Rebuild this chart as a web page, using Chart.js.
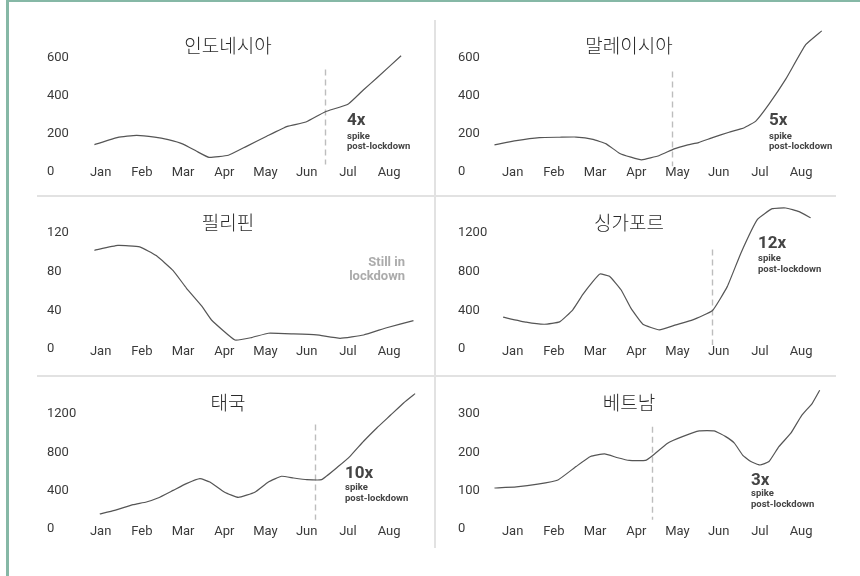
<!DOCTYPE html>
<html><head><meta charset="utf-8">
<script src="https://cdn.jsdelivr.net/npm/chart.js@4"></script>
<style>
html,body{margin:0;padding:0;background:#fff;}
#stage{position:relative;width:860px;height:576px;overflow:hidden;font-family:Roboto,sans-serif;}
.bl{position:absolute;left:6px;top:0;width:3px;height:576px;background:#86b8a6;}
.bt{position:absolute;left:6px;top:0;width:854px;height:2px;background:#86b8a6;}
.vd{position:absolute;left:434px;top:20px;width:2px;height:528px;background:#e2e2e2;}
.hd{position:absolute;left:37px;width:799px;height:2px;background:#e2e2e2;}
canvas{position:absolute;}
.title{position:absolute;width:300px;text-align:center;font-family:"Noto Sans CJK KR",sans-serif;font-weight:300;font-size:19px;line-height:20px;color:#2a2a2a;}
.ann{position:absolute;font-family:Roboto,sans-serif;font-weight:700;color:#444;white-space:nowrap;}
.big{font-size:17px;line-height:18px;}
.small{font-size:9.5px;line-height:10px;}
.gray{color:#ababab;font-size:13px;line-height:14px;text-align:right;}
</style></head>
<body><div id="stage">
<div class="bl"></div><div class="bt"></div>
<div class="vd"></div>
<div class="hd" style="top:195px"></div>
<div class="hd" style="top:375px"></div>
</div>
<script>
const months = ['Jan','Feb','Mar','Apr','May','Jun','Jul','Aug'];
const titles = ['인도네시아','말레이시아','필리핀','싱가포르','태국','베트남'];

const idnX = [-0.15,0.42,0.87,1.31,1.64,2.0,2.33,2.63,3.10,3.54,4.03,4.53,4.98,5.44,6.01,6.38,6.70,7.29];
const idnY = [144,182,193,184,170,147,109,77,88,135,188,240,263,316,358,433,495,612];
const mysX = [-0.44,0.09,0.65,1.14,1.54,1.95,2.27,2.59,2.87,3.13,3.56,3.92,4.25,4.51,4.85,5.25,5.62,5.90,6.22,6.63,7.11,7.50];
const mysY = [143,165,181,183,184,172,148,99,78,64,87,122,143,155,181,209,233,268,357,490,670,743];
const phlX = [-0.15,0.42,0.95,1.35,1.76,2.08,2.45,2.69,3.26,3.66,4.07,4.68,5.24,5.81,6.38,6.94,7.59];
const phlY = [102,107,105.5,96.5,81,63,44.6,30,9.3,11.8,16.3,15.6,14.5,11,14.5,22,29.4];
const sgpX = [-0.23,0.33,0.77,1.14,1.46,1.70,1.95,2.12,2.35,2.63,2.87,3.16,3.56,3.96,4.37,4.85,5.21,5.54,5.94,6.30,6.63,6.95,7.23];
const sgpY = [329,277,256,280,405,561,699,775,751,612,422,256,197,249,301,398,647,993,1339,1450,1457,1419,1356];
const thaX = [-0.02,0.34,0.79,1.11,1.39,1.76,2.08,2.41,2.65,3.01,3.34,3.74,4.07,4.39,4.68,5.0,5.36,5.77,6.05,6.38,6.70,7.03,7.35,7.63];
const thaY = [157,195,254,282,323,403,473,525,490,383,330,383,490,550,532,515,515,654,758,915,1054,1186,1315,1412];
const vnmX = [-0.44,0.09,0.61,1.10,1.54,1.89,2.23,2.55,2.83,3.22,3.40,3.76,4.12,4.53,4.89,5.17,5.38,5.58,5.78,6.0,6.22,6.46,6.75,7.01,7.27,7.45];
const vnmY = [107,110,117,128,163,189,196,186,179,179,192,224,241,256,256,241,224,193,176,167,176,215,250,296,328,362];

const idnTicks = [0,200,400,600];
const mysTicks = [0,200,400,600];
const phlTicks = [0,40,80,120];
const sgpTicks = [0,400,800,1200];
const thaTicks = [0,400,800,1200];
const vnmTicks = [0,100,200,300];

const yMaxes = [800,800,155,1550,1575,394];
const lockdownX = [5.44,3.86,null,4.83,5.19,3.38];
const lockdownFrom = [40,30,null,42,97,24];
const lockdownTo = [540,529,null,1028,1089,267];
const spikeLabels = ['4x','5x',null,'12x','10x','3x'];

const xsAll = [idnX,mysX,phlX,sgpX,thaX,vnmX];
const ysAll = [idnY,mysY,phlY,sgpY,thaY,vnmY];
const ticksAll = [idnTicks,mysTicks,phlTicks,sgpTicks,thaTicks,vnmTicks];

// layout (positions only)
const cols = [{left:47,yw:33,w:371,tx:228},{left:458,yw:34,w:372,tx:629}];
const rows = [{top:20,zero:172,ty:45,xpad:0},{top:199,zero:349,ty:222,xpad:2},{top:378,zero:529,ty:402,xpad:2}];
const annPos = [{x:347,y:[119,136,146]},{x:769,y:[119,136,146]},null,{x:758,y:[242,258,269]},{x:345,y:[472,487,498]},{x:751,y:[479,493,504]}];

const stage = document.getElementById('stage');
const dashPlugin = {
  id:'lockdown',
  beforeDatasetsDraw(chart, args, opts){
    if (opts.x == null) return;
    const {ctx, scales:{x,y}} = chart;
    const px = Math.round(x.getPixelForValue(opts.x)) + 0.5;
    ctx.save();
    ctx.strokeStyle = '#bdbdbd'; ctx.lineWidth = 1.4; ctx.setLineDash([6,4]);
    ctx.beginPath();
    ctx.moveTo(px, y.getPixelForValue(opts.to));
    ctx.lineTo(px, y.getPixelForValue(opts.from));
    ctx.stroke(); ctx.restore();
  }
};

const PADT = 8, LIFT = 7, XH = 22;
for (let i = 0; i < 6; i++) {
  const c = cols[i % 2], r = rows[Math.floor(i / 2)];
  const cv = document.createElement('canvas');
  const bottom = r.zero - LIFT;
  const h = PADT + (bottom - r.top) + XH;
  cv.width = c.w; cv.height = h;
  cv.style.left = c.left + 'px'; cv.style.top = (r.top - PADT) + 'px';
  cv.style.width = c.w + 'px'; cv.style.height = h + 'px';
  stage.appendChild(cv);

  const t = document.createElement('div');
  t.className = 'title'; t.textContent = titles[i];
  t.style.left = (c.tx - 150) + 'px'; t.style.top = (r.ty - 10) + 'px';
  stage.appendChild(t);

  const a = annPos[i];
  if (a) {
    const lines = [[spikeLabels[i],'big',18],['spike','small',10],['post-lockdown','small',10]];
    lines.forEach((ln, k) => {
      const d = document.createElement('div');
      d.className = 'ann ' + ln[1]; d.textContent = ln[0];
      d.style.left = a.x + 'px'; d.style.top = (a.y[k] - ln[2] / 2) + 'px';
      stage.appendChild(d);
    });
  }

  const yt = ticksAll[i], xs = xsAll[i], ys = ysAll[i];
  const yMax = yMaxes[i];
  const yMin = yMax * LIFT / (r.zero - r.top);   // zero line sits LIFT px below the plot bottom
  new Chart(cv, {
    type:'line',
    data:{datasets:[{
      data: xs.map((x, k) => ({x:x, y:ys[k]})),
      borderColor:'#555', borderWidth:1.2, pointRadius:0, tension:0.12, fill:false, clip:false
    }]},
    options:{
      responsive:false, animation:false, devicePixelRatio:1,
      layout:{padding:{top:PADT,left:0,right:0,bottom:0}},
      plugins:{legend:{display:false}, tooltip:{enabled:false},
        lockdown:{x:lockdownX[i], from:lockdownFrom[i], to:lockdownTo[i]}},
      scales:{
        x:{type:'linear', min:-0.5, max:7.7,
          grid:{display:false, drawTicks:false}, border:{display:false},
          afterBuildTicks: s => { s.ticks = months.map((m, k) => ({value:k})); },
          afterFit: s => { s.height = XH; },
          ticks:{callback: v => months[v], font:{family:'Roboto', size:13}, color:'#3a3a3a',
            padding:r.xpad, maxRotation:0, autoSkip:false}},
        y:{min:yMin, max:yMax,
          grid:{display:false, drawTicks:false}, border:{display:false},
          afterBuildTicks: s => { s.ticks = yt.map(v => ({value:v})); },
          afterFit: s => { s.width = c.yw; },
          ticks:{callback: v => String(v), crossAlign:'far', font:{family:'Roboto', size:13}, color:'#3a3a3a', padding:0}}
      }
    },
    plugins:[dashPlugin]
  });
}

const still = document.createElement('div');
still.className = 'ann gray';
still.innerHTML = 'Still in<br>lockdown';
still.style.right = (860 - 405) + 'px'; still.style.top = '255px';
stage.appendChild(still);
</script>
</body></html>
